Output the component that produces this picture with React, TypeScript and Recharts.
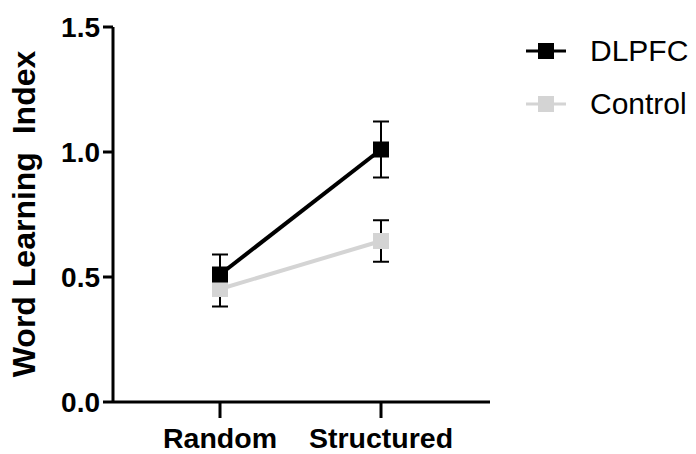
import { LineChart, Line, XAxis, YAxis, ErrorBar, Legend } from 'recharts';

const categories = ['Random', 'Structured'];
const dlpfcMeans = [0.51, 1.01];
const dlpfcErrors = [0.08, 0.112];
const controlMeans = [0.452, 0.644];
const controlErrors = [0.07, 0.083];
const yTicks = [0, 0.5, 1.0, 1.5];

const data = categories.map((name, i) => ({
    name,
    dlpfc: dlpfcMeans[i],
    dlpfcErr: dlpfcErrors[i],
    control: controlMeans[i],
    controlErr: controlErrors[i],
}));

const FONT = 'Arial, "Liberation Sans", Helvetica, sans-serif';

const SquareDot = (color: string) => (props: any) => {
    const { cx, cy, index } = props;
    if (cx == null || cy == null) return <g key={index} />;
    return <rect key={index} x={cx - 8} y={cy - 8} width={16} height={16} fill={color} />;
};

const legendItems = [
    { name: 'DLPFC', color: '#000000' },
    { name: 'Control', color: '#d4d4d4' },
];

const CustomLegend = () => (
    <div style={{ fontFamily: FONT }}>
        {legendItems.map((item) => (
            <div key={item.name} style={{ display: 'flex', alignItems: 'center', height: 53 }}>
                <svg width={44} height={20}>
                    <line x1={0} y1={10} x2={40} y2={10} stroke={item.color} strokeWidth={3} />
                    <rect x={12} y={2} width={16} height={16} fill={item.color} />
                </svg>
                <span style={{ fontSize: 30, marginLeft: 20, color: '#000' }}>{item.name}</span>
            </div>
        ))}
    </div>
);

const YLabel = () => (
    <text
        x={0}
        y={0}
        transform="translate(35, 214) rotate(-90)"
        textAnchor="middle"
        fontFamily={FONT}
        fontWeight="bold"
        fontSize={32}
        fill="#000"
        style={{ whiteSpace: 'pre' }}
    >
        Word Learning  Index
    </text>
);

export default function App() {
    return (
        <div style={{ position: 'absolute', left: 0, top: 0, background: '#fff' }}>
            <LineChart
                width={696}
                height={454}
                data={data}
                margin={{ top: 27, right: 206, bottom: 0, left: 0 }}
            >
                <XAxis
                    dataKey="name"
                    padding={{ left: 107, right: 109 }}
                    axisLine={{ stroke: '#000', strokeWidth: 3 }}
                    tickLine={{ stroke: '#000', strokeWidth: 3 }}
                    tickSize={16}
                    tick={{ fill: '#000', fontSize: 28.5, fontWeight: 'bold', fontFamily: FONT }}
                    tickMargin={10}
                    height={52}
                />
                <YAxis
                    domain={[0, 1.5]}
                    ticks={yTicks}
                    tickFormatter={(v: number) => v.toFixed(1)}
                    width={113}
                    axisLine={{ stroke: '#000', strokeWidth: 3 }}
                    tickLine={{ stroke: '#000', strokeWidth: 3 }}
                    tickSize={10}
                    tickMargin={3}
                    tick={{ fill: '#000', fontSize: 28, fontWeight: 'bold', fontFamily: FONT }}
                    label={<YLabel />}
                />
                <Legend
                    layout="vertical"
                    align="center"
                    verticalAlign="middle"
                    content={<CustomLegend />}
                    wrapperStyle={{ left: 526, top: 24, width: 170 }}
                />
                <Line
                    type="linear"
                    dataKey="control"
                    stroke="#d4d4d4"
                    strokeWidth={4}
                    dot={SquareDot('#d4d4d4')}
                    activeDot={false}
                    isAnimationActive={false}
                >
                    <ErrorBar dataKey="controlErr" width={8} strokeWidth={2} stroke="#000" direction="y" />
                </Line>
                <Line
                    type="linear"
                    dataKey="dlpfc"
                    stroke="#000"
                    strokeWidth={4}
                    dot={SquareDot('#000')}
                    activeDot={false}
                    isAnimationActive={false}
                >
                    <ErrorBar dataKey="dlpfcErr" width={8} strokeWidth={2} stroke="#000" direction="y" />
                </Line>
            </LineChart>
        </div>
    );
}
